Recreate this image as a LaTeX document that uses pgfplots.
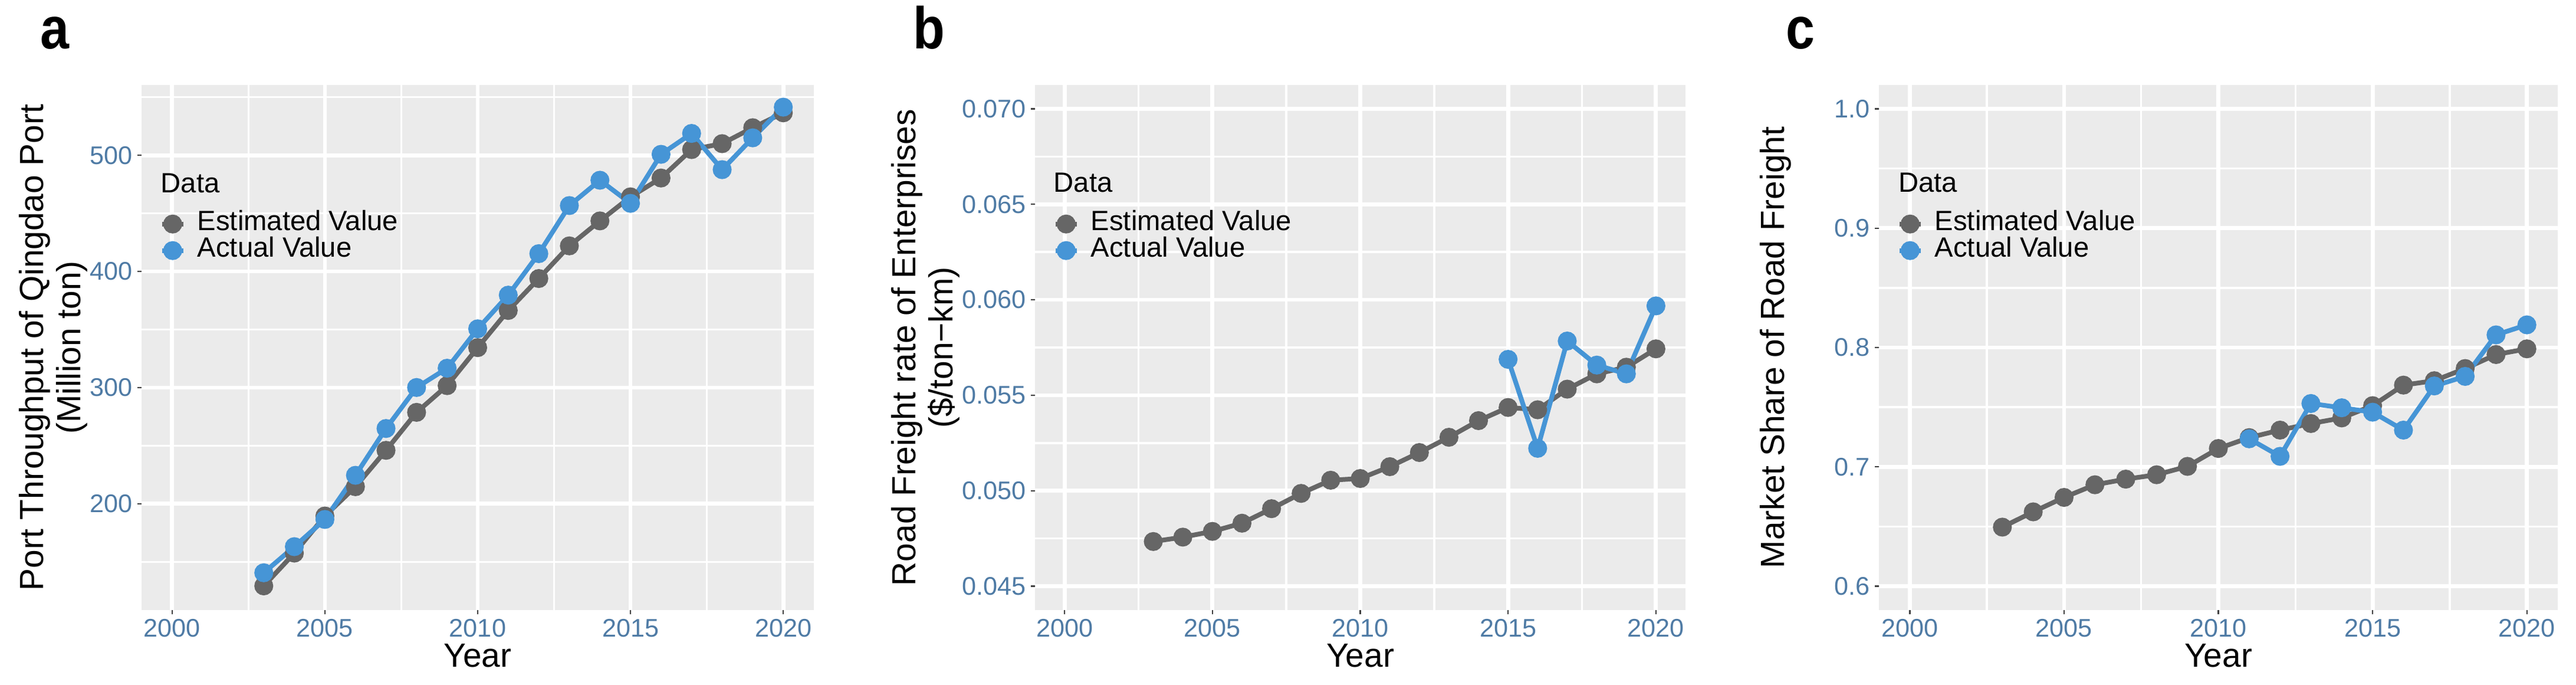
\documentclass[border=0pt]{standalone}
\usepackage{fontspec}
\setmainfont{Liberation Sans}
\usepackage{pgfplots}
\pgfplotsset{compat=1.18}

\definecolor{estgrey}{HTML}{666666}
\definecolor{actblue}{HTML}{4695D6}
\definecolor{tickblue}{HTML}{4F7BA5}
\definecolor{panelbg}{HTML}{EBEBEB}

\pgfplotsset{
  ggpanel/.style={
    scale only axis, anchor=south west,
    height=222.5pt,
    xmin=1999, xmax=2021,
    xtick={2000,2005,2010,2015,2020},
    minor xtick={2002.5,2007.5,2012.5,2017.5},
    grid=both,
    major grid style={white, line width=1.7pt},
    minor grid style={white, line width=0.85pt},
    axis background/.style={fill=panelbg},
    axis line style={draw=none},
    tick align=outside,
    tick pos=left,
    major tick length=1.75pt,
    minor tick length=0pt,
    tick style={color=black!75, line width=0.6pt},
    tick label style={font=\fontsize{10.8}{12}\selectfont, color=tickblue, inner sep=2pt},
    /pgf/number format/assume math mode=true,
    x tick label style={/pgf/number format/1000 sep={}},
    label style={font=\fontsize{14.2}{15.8}\selectfont},
    xlabel={Year},
    xlabel style={at={(axis description cs:0.5,-0.0865)}, anchor=center, inner sep=0pt},
    ylabel style={anchor=south, inner sep=0pt, align=center},
    legend style={at={(axis description cs:0,1)}, anchor=north west,
      xshift=7.5pt, yshift=-53.1pt, draw=none, fill=none, inner sep=0pt,
      font=\fontsize{11.8}{13}\selectfont, row sep=0pt,
      nodes={inner xsep=0pt, inner ysep=0pt, text height=8.3pt, text depth=2.95pt},
      /tikz/every odd column/.append style={column sep=5pt}},
    legend cell align=left,
    legend image code/.code={
      \draw[mark repeat=2, mark phase=2, #1] plot coordinates {(0pt,0pt) (4.5pt,0pt) (9pt,0pt)};
    },
  },
  est/.style={color=estgrey, line width=2pt, mark=*, mark size=3pt,
    mark options={solid, fill=estgrey, draw=estgrey}},
  act/.style={color=actblue, line width=2pt, mark=*, mark size=3pt,
    mark options={solid, fill=actblue, draw=actblue}},
}

\begin{document}
\begin{tikzpicture}
\path[use as bounding box] (0,0) rectangle (1092pt,290pt);

% panel a
\node[anchor=base west, font=\fontsize{25}{25}\selectfont\bfseries, inner sep=0pt] at (17pt,269.25pt) {\scalebox{0.88}[1]{a}};
\begin{axis}[ggpanel,
  at={(60pt,31.5pt)}, width=285pt,
  ymin=108.5, ymax=560.5,
  ytick={200,300,400,500},
  minor ytick={150,250,350,450,550},
  ylabel={Port Throughput of Qingdao Port\\(Million ton)},
  ylabel style={at={(axis description cs:-0.0798,0.5)}},
]
\addplot[est] coordinates {
  (2003,129.3) (2004,157.5) (2005,189.5) (2006,214.7) (2007,246) (2008,278.7)
  (2009,301.7) (2010,334.4) (2011,366.4) (2012,393.9) (2013,422) (2014,443.5)
  (2015,464.2) (2016,480.4) (2017,504.9) (2018,510) (2019,523.7) (2020,536.5)};
\addlegendentry{Estimated Value}
\addplot[act] coordinates {
  (2003,140.6) (2004,163.1) (2005,186.5) (2006,224.5) (2007,264.8) (2008,300.1)
  (2009,316.7) (2010,350.6) (2011,379.6) (2012,415.3) (2013,456.7) (2014,478.5)
  (2015,458.6) (2016,500.8) (2017,518.8) (2018,487.6) (2019,515) (2020,541.4)};
\addlegendentry{Actual Value}
\node[anchor=west, font=\fontsize{11.8}{13}\selectfont, inner sep=0pt] at (axis description cs:0.028,0.8135) {Data};
\end{axis}

% panel b
\node[anchor=base west, font=\fontsize{25}{25}\selectfont\bfseries, inner sep=0pt] at (387pt,269.25pt) {\scalebox{0.88}[1]{b}};
\begin{axis}[ggpanel,
  at={(438.75pt,31.5pt)}, width=275.75pt,
  ymin=0.04375, ymax=0.07125,
  ytick={0.045,0.050,0.055,0.060,0.065,0.070},
  minor ytick={0.0475,0.0525,0.0575,0.0625,0.0675},
  y tick label style={/pgf/number format/.cd, fixed, fixed zerofill, precision=3},
  scaled y ticks=false,
  ylabel={Road Freight rate of Enterprises\\(\$/ton−km)},
  ylabel style={at={(axis description cs:-0.1151,0.5)}},
]
\addplot[est] coordinates {
  (2003,0.04734) (2004,0.04757) (2005,0.04787) (2006,0.04830) (2007,0.04906) (2008,0.04986)
  (2009,0.05055) (2010,0.05064) (2011,0.05126) (2012,0.05200) (2013,0.05280) (2014,0.05367)
  (2015,0.05436) (2016,0.05424) (2017,0.05532) (2018,0.05612) (2019,0.05647) (2020,0.05743)};
\addlegendentry{Estimated Value}
\addplot[act] coordinates {
  (2015,0.05688) (2016,0.05222) (2017,0.05784) (2018,0.05658) (2019,0.05612) (2020,0.05968)};
\addlegendentry{Actual Value}
\node[anchor=west, font=\fontsize{11.8}{13}\selectfont, inner sep=0pt] at (axis description cs:0.028,0.8135) {Data};
\end{axis}

% panel c
\node[anchor=base west, font=\fontsize{25}{25}\selectfont\bfseries, inner sep=0pt] at (757pt,269.25pt) {\scalebox{0.88}[1]{c}};
\begin{axis}[ggpanel,
  at={(796.5pt,31.5pt)}, width=287.75pt,
  ymin=0.58, ymax=1.02,
  ytick={0.6,0.7,0.8,0.9,1.0},
  minor ytick={0.65,0.75,0.85,0.95},
  y tick label style={/pgf/number format/.cd, fixed, fixed zerofill, precision=1},
  ylabel={Market Share of Road Freight},
  ylabel style={at={(axis description cs:-0.1286,0.5)}},
]
\addplot[est] coordinates {
  (2003,0.6495) (2004,0.6623) (2005,0.6744) (2006,0.6850) (2007,0.6897) (2008,0.6934)
  (2009,0.7004) (2010,0.7154) (2011,0.7245) (2012,0.7308) (2013,0.7363) (2014,0.7410)
  (2015,0.7513) (2016,0.7685) (2017,0.7722) (2018,0.7824) (2019,0.7941) (2020,0.7989)};
\addlegendentry{Estimated Value}
\addplot[act] coordinates {
  (2011,0.7235) (2012,0.7088) (2013,0.7531) (2014,0.7495) (2015,0.7458) (2016,0.7308)
  (2017,0.7678) (2018,0.7758) (2019,0.8106) (2020,0.8190)};
\addlegendentry{Actual Value}
\node[anchor=west, font=\fontsize{11.8}{13}\selectfont, inner sep=0pt] at (axis description cs:0.028,0.8135) {Data};
\end{axis}
\end{tikzpicture}
\end{document}
